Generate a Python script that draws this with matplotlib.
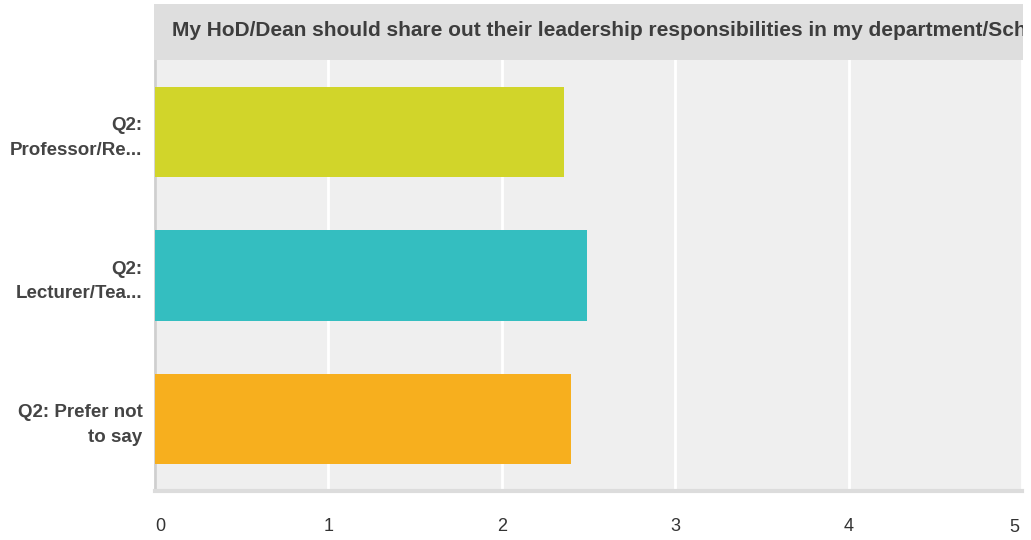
import matplotlib
matplotlib.use("Agg")
import matplotlib.pyplot as plt
from matplotlib.patches import Rectangle

plt.rcParams['font.family'] = ['Liberation Sans', 'DejaVu Sans']

title = "My HoD/Dean should share out their leadership responsibilities in my department/School"
categories = ["Q2:\nProfessor/Re...", "Q2:\nLecturer/Tea...", "Q2: Prefer not\nto say"]
values = [2.36, 2.49, 2.40]
colors = ["#d1d52a", "#34bec0", "#f7af1e"]
xticks = [0, 1, 2, 3, 4, 5]

W, H = 1031, 540
fig = plt.figure(figsize=(W / 100, H / 100), dpi=100)
fig.patch.set_facecolor("white")

left, right, top, bottom = 155, 1022, 60, 491
ax = fig.add_axes([left / W, 1 - bottom / H, (right - left) / W, (bottom - top) / H])
ax.set_facecolor("#efefef")

ypos = list(range(len(categories)))
ax.barh(ypos, values, height=0.63, color=colors, zorder=3)
ax.set_ylim(len(categories) - 0.5, -0.5)
ax.set_xlim(0, 5)

ax.set_xticks(xticks)
ax.set_xticklabels([str(t) for t in xticks[:-1]] + [""], fontsize=13, color="#333333")
lbls = ax.get_xticklabels()
lbls[0].set_ha("left")
ax.tick_params(axis="x", length=0, pad=19.5)
# last tick label, nudged inward like the original
ax.annotate(str(xticks[-1]), xy=(xticks[-1], 0), xycoords=ax.get_xaxis_transform(),
            xytext=(-3, -36), textcoords="offset pixels", ha="right", va="center",
            fontsize=13, color="#333333", annotation_clip=False)

ax.set_yticks(ypos)
ax.set_yticklabels(categories, fontsize=13.5, fontweight="bold", color="#444444",
                   linespacing=1.6, multialignment="right")
ax.tick_params(axis="y", length=0, pad=9)

ax.grid(axis="x", color="white", linewidth=2, zorder=1)
ax.grid(axis="y", visible=False)
for s in ["top", "right"]:
    ax.spines[s].set_visible(False)
ax.spines["left"].set_color("#cfcfcf")
ax.spines["left"].set_linewidth(2)
ax.spines["bottom"].set_color("#dcdcdc")
ax.spines["bottom"].set_linewidth(3)

# title bar (title text is clipped at the bar's right edge, as in the original)
tb_x0, tb_x1, tb_y0, tb_y1 = 154, 1023, 4, 60
rect = Rectangle((tb_x0 / W, 1 - tb_y1 / H), (tb_x1 - tb_x0) / W, (tb_y1 - tb_y0) / H,
                 transform=fig.transFigure, facecolor="#dedede", edgecolor="none")
fig.patches.append(rect)
t = fig.text(172 / W, 1 - 31 / H, title, fontsize=15, fontweight="bold", color="#3d3d3d",
             ha="left", va="center")
t.set_clip_path(rect)
t.set_clip_on(True)

fig.savefig("out.png", dpi=100)
